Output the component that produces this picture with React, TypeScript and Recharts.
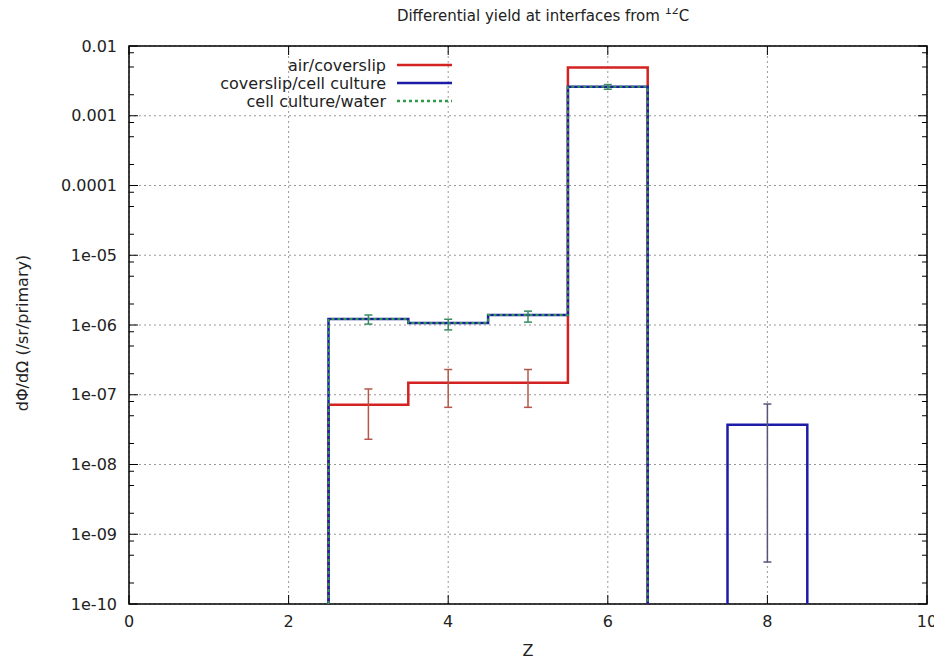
import { ComposedChart, Line, Scatter, ErrorBar, XAxis, YAxis, CartesianGrid, ReferenceArea } from 'recharts';

const W = 934;
const H = 654;
const MARGIN = { top: 38, right: 15, bottom: 28, left: 11 };
const Y_AXIS_W = 110;
const X_AXIS_H = 30;
const PLOT_W = W - MARGIN.left - MARGIN.right - Y_AXIS_W;
const PLOT_H = H - MARGIN.top - MARGIN.bottom - X_AXIS_H;
const FONT = '"DejaVu Sans", sans-serif';
const FLOOR = 1e-10;

// Z bins (centres), histogram height per bin; 0 = empty bin
const zBins = [3, 4, 5, 6, 7, 8];
const airCoverslip = [7.2e-8, 1.48e-7, 1.48e-7, 4.9e-3, 0, 0];
const coverslipCell = [1.22e-6, 1.07e-6, 1.39e-6, 2.6e-3, 0, 3.7e-8];
const cellWater = [1.22e-6, 1.07e-6, 1.39e-6, 2.6e-3, 0, 0];

// error bars: position, centre, +/- error
const airErrZ = [3, 4, 5];
const airErrMid = [7.2e-8, 1.48e-7, 1.48e-7];
const airErr = [4.9e-8, 8.2e-8, 8.2e-8];
const waterErrZ = [3, 4, 5, 6];
const waterErrMid = [1.21e-6, 1.03e-6, 1.34e-6, 2.6e-3];
const waterErr = [1.8e-7, 1.8e-7, 2.4e-7, 2e-4];
const coverErrZ = [8];
const coverErrMid = [3.7e-8];
const coverErr = [3.66e-8];

const xTicks = [0, 2, 4, 6, 8, 10];
const yTicks = [1e-10, 1e-9, 1e-8, 1e-7, 1e-6, 1e-5, 1e-4, 1e-3, 1e-2];
const yTickLabels = ['1e-10', '1e-09', '1e-08', '1e-07', '1e-06', '1e-05', '0.0001', '0.001', '0.01'];
const yMinorTicks = yTicks.slice(0, -1).flatMap((d) => [2, 5, 8].map((m) => d * m));

const legendLabels = ['air/coverslip', 'coverslip/cell culture', 'cell culture/water'];
const legendColors = ['#d42222', '#1c1ca8', '#2f9a4a'];
const legendDash = ['', '', '3 3'];

function histSteps(values: number[]) {
  const pts: { x: number; y: number | null }[] = [];
  let open = false;
  values.forEach((v, i) => {
    const lo = zBins[i] - 0.5;
    if (v > 0) {
      if (!open) {
        pts.push({ x: lo, y: FLOOR });
        open = true;
      }
      pts.push({ x: lo, y: v });
    } else if (open) {
      pts.push({ x: lo, y: FLOOR });
      pts.push({ x: lo, y: null });
      open = false;
    }
  });
  if (open) pts.push({ x: zBins[zBins.length - 1] + 0.5, y: FLOOR });
  return pts;
}

const errPoints = (zs: number[], mids: number[], errs: number[]) =>
  zs.map((x, i) => ({ x, y: mids[i], err: errs[i] }));

const majorIndex = (v: number) =>
  yTicks.findIndex((t) => Math.abs(Math.log10(t) - Math.log10(v)) < 0.01);

const noShape = () => <g />;

// left tick: label + inward ticks on both frame sides (gnuplot style)
function YTick(props: any) {
  const { x, y, payload } = props;
  const i = majorIndex(payload.value);
  const axisX = x + 12;
  const len = i >= 0 ? 9 : 5;
  return (
    <g>
      {i >= 0 && (
        <text x={x} y={y} dy="0.355em" textAnchor="end" fontSize={16} fill="#222" fontFamily={FONT}>
          {yTickLabels[i]}
        </text>
      )}
      <line x1={axisX} x2={axisX + len} y1={y} y2={y} stroke="#000" />
      <line x1={axisX + PLOT_W - len} x2={axisX + PLOT_W} y1={y} y2={y} stroke="#000" />
    </g>
  );
}

function XTick(props: any) {
  const { x, y, payload } = props;
  const axisY = y - 12;
  return (
    <g>
      <text x={x} y={y} dy="0.71em" textAnchor="middle" fontSize={16} fill="#222" fontFamily={FONT}>
        {payload.value}
      </text>
      <line x1={x} x2={x} y1={axisY} y2={axisY - 9} stroke="#000" />
      <line x1={x} x2={x} y1={axisY - PLOT_H} y2={axisY - PLOT_H + 9} stroke="#000" />
    </g>
  );
}

export default function App() {
  return (
    <div style={{ position: 'relative', width: W, height: H, background: '#fff' }}>
      <ComposedChart width={W} height={H} margin={MARGIN}>
        <CartesianGrid stroke="#999" strokeDasharray="2 3" horizontalValues={yTicks} verticalValues={xTicks} />
        <XAxis
          dataKey="x"
          type="number"
          domain={[0, 10]}
          ticks={xTicks}
          allowDataOverflow
          height={X_AXIS_H}
          tickLine={false}
          tickSize={6}
          tickMargin={6}
          tick={<XTick />}
          axisLine={false}
        />
        <YAxis
          type="number"
          scale="log"
          domain={[1e-10, 1e-2]}
          ticks={[...yTicks, ...yMinorTicks]}
          allowDataOverflow
          interval={0}
          width={Y_AXIS_W}
          tickLine={false}
          tickSize={6}
          tickMargin={6}
          tick={<YTick />}
          axisLine={false}
        />
        <ReferenceArea x1={0} x2={10} y1={1e-10} y2={1e-2} fill="none" stroke="#000" strokeWidth={1.5} />

        <Line data={histSteps(airCoverslip)} dataKey="y" type="stepAfter" stroke={legendColors[0]} strokeWidth={2.5} dot={false} isAnimationActive={false} />
        <Line data={histSteps(coverslipCell)} dataKey="y" type="stepAfter" stroke={legendColors[1]} strokeWidth={2.5} dot={false} isAnimationActive={false} />
        <Line data={histSteps(cellWater)} dataKey="y" type="stepAfter" stroke={legendColors[2]} strokeWidth={2} strokeDasharray="3 3" dot={false} isAnimationActive={false} />

        <Scatter data={errPoints(airErrZ, airErrMid, airErr)} dataKey="y" shape={noShape} isAnimationActive={false}>
          <ErrorBar dataKey="err" direction="y" width={4} stroke="#b5574a" strokeWidth={1.5} isAnimationActive={false} />
        </Scatter>
        <Scatter data={errPoints(waterErrZ, waterErrMid, waterErr)} dataKey="y" shape={noShape} isAnimationActive={false}>
          <ErrorBar dataKey="err" direction="y" width={4} stroke="#3a8a62" strokeWidth={1.5} isAnimationActive={false} />
        </Scatter>
        <Scatter data={errPoints(coverErrZ, coverErrMid, coverErr)} dataKey="y" shape={noShape} isAnimationActive={false}>
          <ErrorBar dataKey="err" direction="y" width={4} stroke="#55557a" strokeWidth={1.5} isAnimationActive={false} />
        </Scatter>
      </ComposedChart>

      <svg width={942} height={662} style={{ position: 'absolute', left: -8, top: -8, pointerEvents: 'none' }} fontFamily={FONT}>
        <text x={543} y={21} textAnchor="middle" fontSize={15} fill="#222">
          Differential yield at interfaces from <tspan dy={-7} fontSize={11}>12</tspan>
          <tspan dy={7}>C</tspan>
        </text>
        <text x={22} y={333} transform="rotate(-90 22 333)" textAnchor="middle" dominantBaseline="central" fontSize={16} fill="#222">
          dΦ/dΩ (/sr/primary)
        </text>
        <text x={528} y={656} textAnchor="middle" fontSize={16} fill="#222">Z</text>
        {legendLabels.map((label, i) => (
          <g key={label}>
            <text x={386} y={65 + i * 18 + 6} textAnchor="end" fontSize={16} fill="#222">{label}</text>
            <line x1={397} x2={452} y1={65 + i * 18} y2={65 + i * 18} stroke={legendColors[i]} strokeWidth={2.5} strokeDasharray={legendDash[i] || undefined} />
          </g>
        ))}
      </svg>
    </div>
  );
}
